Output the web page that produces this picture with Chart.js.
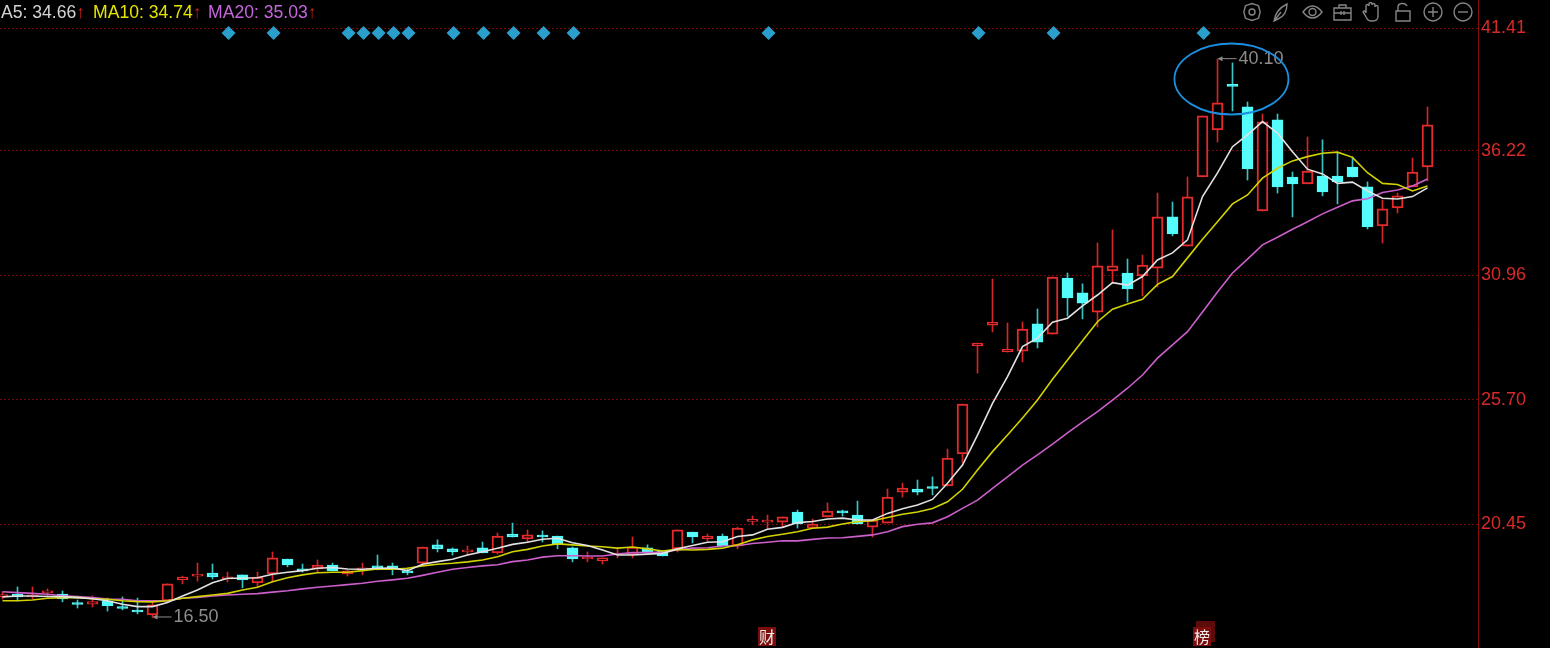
<!DOCTYPE html>
<html>

<head>
    <meta charset="utf-8">
    <title>K-line chart</title>
    <script src="https://cdn.jsdelivr.net/npm/chart.js@4"></script>
    <style>
        html, body { margin: 0; padding: 0; background: #000; overflow: hidden; }
        #wrap { position: relative; width: 1550px; height: 648px; overflow: hidden; }
        #myChart { position: absolute; left: 0; top: 0; }
        .ma { position: absolute; top: 1px; font: 17.6px "Liberation Sans", Arial, sans-serif; white-space: nowrap; line-height: 22px; }
        .ma b { font-weight: normal; color: #c81e1e; }
        #tools { position: absolute; left: 1240px; top: 0; }
    </style>
</head>

<body>
    <div id="wrap">
        <canvas id="myChart" width="1550" height="648"></canvas>
        <div class="ma" style="left:1px;color:#d4d4d4">A5: 34.66<b>↑</b></div>
        <div class="ma" style="left:93px;color:#e4e400">MA10: 34.74<b>↑</b></div>
        <div class="ma" style="left:208px;color:#c766dc">MA20: 35.03<b>↑</b></div>
        <svg id="tools" width="236" height="26" fill="none" stroke="#858585" stroke-width="1.4">
            <path d="M12 3.5l6.5 2.2 1.7 6.3-1.7 6.3-6.5 2.2-6.5-2.2-1.7-6.3 1.7-6.3z" />
            <circle cx="12" cy="12" r="3" />
            <path d="M34 21c1-7 5-13 13-17 0 6-2 12-9 15z M34 21l7-9" />
            <path d="M63 12c3-4 6-6 9.500-6s6.500 2 9.500 6c-3 4-6 6-9.500 6s-6.500-2-9.500-6z" />
            <circle cx="72.500" cy="12" r="3.500" />
            <path d="M94 8h17v12h-17z M99 8v-3h7v3 M94 13h17 M101 11v4 M104 11v4" />
            <path d="M126 13v-7a1.500 1.500 0 0 1 3 0v-2a1.500 1.500 0 0 1 3 0v1a1.500 1.500 0 0 1 3 0v2a1.500 1.500 0 0 1 3 0v9c0 3-2 5-5 5h-2c-3 0-4-2-6-6l-2-3c1-2 2-1 3 1" />
            <path d="M156 11h14v10h-14z M158 11v-4c0-4 7-5 9-1" />
            <circle cx="193" cy="12" r="9" />
            <path d="M188 12h10 M193 7v10" />
            <circle cx="223" cy="12" r="9" />
            <path d="M218 12h10" />
        </svg>
    </div>

    <script>
        // candles, one per trading day
        var opens = [
            17.37, 17.49, 17.37, 17.54, 17.49, 17.07, 17.06, 17.20, 16.90, 16.77,
            16.61, 17.20, 18.09, 18.25, 18.38, 18.13, 18.30, 17.96, 18.34, 18.97,
            18.55, 18.55, 18.72, 18.34, 18.51, 18.68, 18.68, 18.47, 18.80, 19.57,
            19.40, 19.27, 19.44, 19.23, 20.03, 19.82, 19.94, 19.94, 19.44, 18.97,
            18.89, 19.14, 19.14, 19.44, 19.31, 19.40, 20.11, 19.82, 19.94, 19.52,
            20.56, 20.53, 20.53, 20.96, 20.28, 20.75, 20.96, 20.83, 20.32, 20.49,
            21.80, 21.93, 21.97, 22.06, 23.41, 27.98, 28.86, 27.72, 27.76, 28.91,
            28.48, 30.85, 30.22, 29.41, 31.15, 31.06, 30.94, 31.27, 33.43, 32.20,
            35.12, 37.11, 38.99, 38.08, 33.68, 37.53, 35.12, 34.83, 35.16, 35.16,
            35.54, 34.70, 33.05, 33.81, 34.70, 35.54];
        var closes = [
            17.47, 17.37, 17.45, 17.58, 17.28, 17.05, 17.17, 16.99, 16.88, 16.73,
            17.03, 17.92, 18.21, 18.30, 18.21, 18.17, 18.09, 18.21, 19.02, 18.72,
            18.47, 18.72, 18.47, 18.47, 18.55, 18.59, 18.55, 18.38, 19.48, 19.40,
            19.27, 19.35, 19.23, 19.94, 19.90, 19.99, 19.90, 19.61, 18.97, 19.02,
            19.02, 19.18, 19.48, 19.23, 19.10, 20.20, 19.90, 19.94, 19.52, 20.28,
            20.58, 20.62, 20.75, 20.45, 20.45, 21.00, 20.92, 20.45, 20.62, 21.59,
            21.97, 21.80, 21.95, 23.24, 25.52, 28.10, 28.99, 27.85, 28.69, 28.14,
            30.89, 30.01, 29.79, 31.36, 31.36, 30.39, 31.40, 33.43, 32.71, 34.28,
            37.70, 38.25, 38.95, 35.46, 37.45, 34.70, 34.83, 35.37, 34.49, 34.91,
            35.12, 33.01, 33.77, 34.32, 35.33, 37.32];
        var highs = [
            17.58, 17.79, 17.79, 17.71, 17.62, 17.24, 17.41, 17.32, 17.37, 17.32,
            17.20, 17.92, 18.25, 18.80, 18.76, 18.42, 18.30, 18.42, 19.27, 18.97,
            18.76, 18.93, 18.80, 18.51, 18.80, 19.14, 18.80, 18.59, 19.48, 19.78,
            19.44, 19.52, 19.69, 20.07, 20.49, 20.20, 20.16, 19.94, 19.48, 19.27,
            19.02, 19.44, 19.90, 19.57, 19.31, 20.20, 20.11, 20.03, 20.03, 20.32,
            20.79, 20.83, 20.75, 21.04, 20.66, 21.34, 21.04, 21.42, 20.62, 21.93,
            22.18, 22.31, 22.44, 23.62, 25.52, 28.10, 30.81, 28.95, 28.99, 29.54,
            30.89, 31.06, 30.60, 32.33, 32.88, 31.65, 31.82, 34.44, 34.06, 35.12,
            37.70, 40.10, 39.94, 38.29, 37.78, 37.78, 35.33, 36.81, 36.69, 36.14,
            35.97, 34.91, 34.15, 34.44, 35.92, 38.08];
        var lows = [
            17.28, 17.20, 17.28, 17.37, 17.16, 16.90, 16.94, 16.77, 16.82, 16.65,
            16.50, 17.16, 17.92, 18.04, 18.13, 18.00, 17.75, 17.79, 18.00, 18.64,
            18.42, 18.42, 18.47, 18.25, 18.30, 18.51, 18.30, 18.30, 18.68, 19.27,
            19.14, 19.14, 19.23, 19.18, 19.90, 19.69, 19.69, 19.40, 18.85, 18.85,
            18.76, 19.02, 19.02, 19.23, 19.10, 19.27, 19.65, 19.73, 19.52, 19.40,
            20.41, 20.24, 20.32, 20.28, 20.28, 20.75, 20.79, 20.45, 19.90, 20.49,
            21.59, 21.68, 21.68, 22.06, 23.03, 26.83, 28.57, 27.72, 27.30, 27.89,
            28.48, 29.24, 29.12, 28.78, 30.64, 29.84, 30.09, 30.47, 32.63, 32.20,
            35.12, 36.60, 37.91, 34.99, 33.68, 34.44, 33.43, 34.83, 34.32, 33.98,
            35.12, 32.92, 32.33, 33.60, 34.70, 34.95];

        // moving averages
        var ma5 = [
            17.37, 17.41, 17.41, 17.39, 17.38, 17.34, 17.29, 17.21, 17.06, 16.96,
            16.96, 17.13, 17.41, 17.66, 17.97, 18.16, 18.16, 18.18, 18.33, 18.41,
            18.48, 18.58, 18.61, 18.55, 18.54, 18.58, 18.59, 18.48, 18.75, 18.86,
            18.96, 19.14, 19.28, 19.43, 19.59, 19.68, 19.81, 19.85, 19.66, 19.54,
            19.35, 19.14, 19.14, 19.18, 19.21, 19.40, 19.54, 19.68, 19.70, 19.92,
            19.99, 20.23, 20.31, 20.51, 20.56, 20.66, 20.70, 20.62, 20.62, 20.90,
            21.10, 21.25, 21.49, 22.17, 22.94, 24.21, 25.55, 26.68, 27.95, 28.31,
            28.98, 29.15, 29.67, 30.13, 30.65, 30.55, 30.91, 31.61, 31.91, 32.46,
            34.29, 35.29, 36.40, 36.90, 37.46, 36.97, 36.19, 35.45, 35.25, 34.85,
            34.90, 34.53, 34.22, 34.19, 34.29, 34.66];
        var ma10 = [
            17.21, 17.21, 17.24, 17.31, 17.34, 17.35, 17.29, 17.27, 17.21, 17.17,
            17.16, 17.21, 17.31, 17.38, 17.45, 17.52, 17.66, 17.78, 18.01, 18.18,
            18.30, 18.39, 18.41, 18.41, 18.48, 18.55, 18.54, 18.58, 18.68, 18.75,
            18.79, 18.85, 18.93, 19.07, 19.28, 19.38, 19.52, 19.61, 19.57, 19.52,
            19.49, 19.43, 19.48, 19.40, 19.31, 19.38, 19.35, 19.38, 19.43, 19.57,
            19.78, 19.92, 20.02, 20.12, 20.27, 20.32, 20.45, 20.55, 20.59, 20.73,
            20.86, 20.96, 21.11, 21.39, 21.92, 22.73, 23.51, 24.21, 24.93, 25.69,
            26.57, 27.38, 28.20, 29.00, 29.53, 29.75, 29.95, 30.58, 30.91, 31.70,
            32.49, 33.23, 33.98, 34.36, 35.07, 35.49, 35.80, 35.98, 36.12, 36.17,
            35.95, 35.30, 34.85, 34.80, 34.53, 34.74];
        var ma20 = [
            17.59, 17.55, 17.52, 17.48, 17.42, 17.38, 17.34, 17.28, 17.27, 17.21,
            17.21, 17.21, 17.31, 17.35, 17.41, 17.45, 17.48, 17.51, 17.57, 17.63,
            17.71, 17.78, 17.83, 17.89, 17.95, 18.03, 18.09, 18.16, 18.28, 18.41,
            18.54, 18.61, 18.68, 18.73, 18.86, 18.93, 19.05, 19.11, 19.11, 19.10,
            19.10, 19.18, 19.24, 19.24, 19.27, 19.35, 19.43, 19.45, 19.52, 19.53,
            19.63, 19.68, 19.74, 19.74, 19.80, 19.86, 19.87, 19.93, 19.99, 20.12,
            20.34, 20.44, 20.50, 20.76, 21.11, 21.46, 21.96, 22.44, 22.94, 23.37,
            23.83, 24.30, 24.76, 25.20, 25.69, 26.19, 26.75, 27.46, 28.02, 28.58,
            29.41, 30.26, 31.06, 31.65, 32.25, 32.57, 32.91, 33.23, 33.56, 33.84,
            34.11, 34.20, 34.46, 34.57, 34.74, 35.03];

        var priceTicks = [20.45, 25.70, 30.96, 36.22, 41.41];

        // signal row along the top and the event tags along the bottom
        var signalDays = [15, 18, 23, 24, 25, 26, 27, 30, 32, 34, 36, 38, 51, 65, 70, 80];
        var signalPrice = 41.21;
        var tagDays = [51, 80];
        var tagTexts = ['财', '榜'];

        var RED = '#e42a2a';
        var RED_WICK = '#d42626';
        var CYAN = '#54fcfc';
        var CYAN_WICK = '#38c4c4';

        var isUp = closes.map(function (c, i) { return c >= opens[i]; });

        var overlays = {
            id: 'overlays',
            afterDatasetsDraw: function (chart) {
                var ctx = chart.ctx;
                var x = chart.scales.x;
                var y = chart.scales.y;
                ctx.save();

                // high / low notes
                var hi = Math.max.apply(null, highs);
                var lo = Math.min.apply(null, lows);
                [[highs.indexOf(hi), hi], [lows.indexOf(lo), lo]].forEach(function (n) {
                    var px = x.getPixelForValue(n[0]);
                    var py = y.getPixelForValue(n[1]);
                    ctx.strokeStyle = '#8c8c8c';
                    ctx.fillStyle = '#8c8c8c';
                    ctx.lineWidth = 1;
                    ctx.beginPath();
                    ctx.moveTo(px + 4, py - 0.5);
                    ctx.lineTo(px + 19, py - 0.5);
                    ctx.stroke();
                    ctx.beginPath();
                    ctx.moveTo(px, py - 0.5);
                    ctx.lineTo(px + 5, py - 3);
                    ctx.lineTo(px + 5, py + 2);
                    ctx.fill();
                    ctx.font = '18px "Liberation Sans", Arial, sans-serif';
                    ctx.textBaseline = 'middle';
                    ctx.textAlign = 'left';
                    ctx.fillText(n[1].toFixed(2), px + 21, py);
                });

                // ring round the peak
                ctx.strokeStyle = '#1c8fe0';
                ctx.lineWidth = 1.8;
                ctx.beginPath();
                ctx.ellipse(x.getPixelForValue(81.93), y.getPixelForValue(39.26), 57, 35.5, 0, 0, Math.PI * 2);
                ctx.stroke();

                // event tags
                ctx.font = '16px "Noto Sans CJK SC", sans-serif';
                ctx.textAlign = 'center';
                ctx.textBaseline = 'middle';
                tagDays.forEach(function (d, i) {
                    var px = Math.round(x.getPixelForValue(d));
                    if (tagTexts[i] === '榜') {
                        ctx.fillStyle = '#5c0a0a';
                        ctx.fillRect(px - 6, 621, 19, 21);
                    }
                    ctx.fillStyle = '#7c0d0d';
                    ctx.fillRect(px - 9, 627, 18, 19);
                    ctx.fillStyle = '#ececec';
                    ctx.fillText(tagTexts[i], px, 637);
                });
                ctx.restore();
            }
        };

        var myChart = new Chart(document.getElementById('myChart').getContext('2d'), {
            data: {
                datasets: [
                    {
                        type: 'bar',
                        label: 'wick',
                        grouped: false,
                        order: 5,
                        barThickness: 1,
                        data: highs.map(function (h, i) { return { x: i, y: [lows[i], h] }; }),
                        backgroundColor: isUp.map(function (u) { return u ? RED_WICK : CYAN_WICK; })
                    },
                    {
                        type: 'bar',
                        label: 'body',
                        grouped: false,
                        order: 4,
                        barThickness: 11,
                        minBarLength: 2,
                        borderSkipped: false,
                        borderWidth: 2,
                        data: opens.map(function (o, i) { return { x: i, y: [o, closes[i]] }; }),
                        backgroundColor: isUp.map(function (u) { return u ? '#000' : CYAN; }),
                        borderColor: isUp.map(function (u) { return u ? RED : CYAN; })
                    },
                    {
                        type: 'line',
                        label: 'MA20',
                        order: 3,
                        data: ma20.map(function (v, i) { return { x: i, y: v }; }),
                        borderColor: '#cc5fcc',
                        borderWidth: 1.6,
                        pointRadius: 0
                    },
                    {
                        type: 'line',
                        label: 'MA10',
                        order: 2,
                        data: ma10.map(function (v, i) { return { x: i, y: v }; }),
                        borderColor: '#d2d200',
                        borderWidth: 1.6,
                        pointRadius: 0
                    },
                    {
                        type: 'line',
                        label: 'MA5',
                        order: 1,
                        data: ma5.map(function (v, i) { return { x: i, y: v }; }),
                        borderColor: '#e2e2e2',
                        borderWidth: 1.6,
                        pointRadius: 0
                    },
                    {
                        type: 'scatter',
                        label: 'signal',
                        order: 0,
                        data: signalDays.map(function (d) { return { x: d + 0.07, y: signalPrice }; }),
                        pointStyle: 'rectRot',
                        pointRadius: 7,
                        backgroundColor: '#2a9fcc',
                        borderWidth: 0
                    }
                ]
            },
            options: {
                responsive: false,
                animation: false,
                events: [],
                layout: { padding: 0, autoPadding: false },
                plugins: { legend: { display: false }, tooltip: { enabled: false } },
                scales: {
                    x: {
                        type: 'linear',
                        display: false,
                        offset: false,
                        min: -0.1667,
                        max: 98.3667
                    },
                    y: {
                        position: 'right',
                        min: 15.21,
                        max: 42.60,
                        afterBuildTicks: function (scale) {
                            scale.ticks = priceTicks.map(function (v) { return { value: v }; });
                        },
                        afterFit: function (scale) {
                            scale.width = 72;
                            scale.paddingTop = 0;
                            scale.paddingBottom = 0;
                        },
                        grid: { color: '#760808', lineWidth: 1, drawTicks: false },
                        border: { color: '#8a0c0c', width: 1, dash: [2, 2] },
                        ticks: {
                            color: '#d92a2a',
                            autoSkip: false,
                            maxRotation: 0,
                            padding: 3,
                            font: { family: '"Liberation Sans", Arial, sans-serif', size: 18 },
                            callback: function (v) { return v.toFixed(2); }
                        }
                    }
                }
            },
            plugins: [overlays]
        });
    </script>

</body>

</html>
